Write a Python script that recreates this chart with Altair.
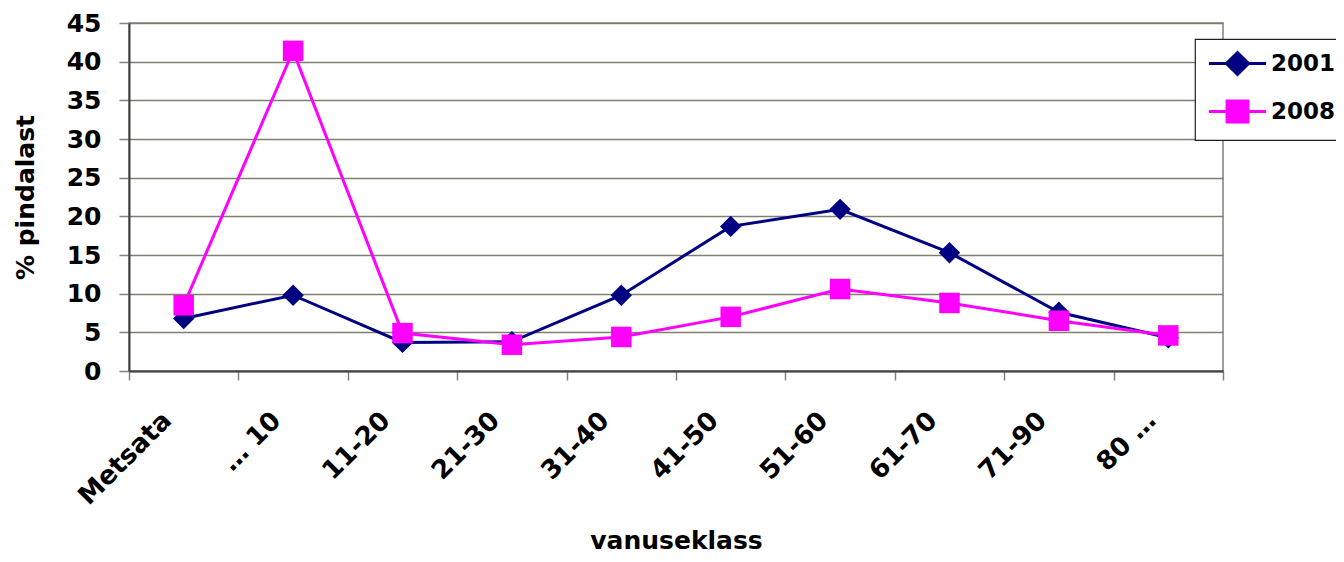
import altair as alt
import pandas as pd

categories = ["Metsata", "… 10", "11-20", "21-30", "31-40", "41-50", "51-60", "61-70", "71-90", "80 …"]
years = ["2001", "2008"]
share_2001 = [6.8, 9.8, 3.7, 3.8, 9.8, 18.7, 20.9, 15.3, 7.6, 4.3]
share_2008 = [8.5, 41.4, 4.9, 3.4, 4.4, 7.0, 10.6, 8.8, 6.5, 4.6]
y_ticks = [0, 5, 10, 15, 20, 25, 30, 35, 40, 45]
colors = ["#000080", "#FF00FF"]
marker_shapes = ["diamond", "square"]
legend_paths = [
    "M-2.6,0H2.6M0,-1L1,0L0,1L-1,0Z",
    "M-2.6,0H2.6M-0.95,-0.95H0.95V0.95H-0.95Z",
]

df = pd.DataFrame({
    "klass": categories * 2,
    "aasta": [years[0]] * len(categories) + [years[1]] * len(categories),
    "pct": share_2001 + share_2008,
})

FONT = "DejaVu Sans"

x_enc = alt.X(
    "klass:N",
    sort=categories,
    bandPosition=0.5,
    scale=alt.Scale(type="band", domain=categories, paddingInner=0, paddingOuter=0),
    axis=alt.Axis(
        title="vanuseklass",
        labelAngle=-45,
        labelAlign="right",
        labelBaseline="middle",
        labelPadding=36,
        labelOffset=-17,
        labelFontSize=26,
        tickBand="extent",
        tickSize=9,
        grid=False,
        titleBaseline="alphabetic",
        titleY=177,
    ),
)
y_enc = alt.Y(
    "pct:Q",
    scale=alt.Scale(domain=[0, 45], nice=False, zero=True),
    axis=alt.Axis(
        values=y_ticks,
        title="% pindalast",
        grid=True,
        tickSize=10,
        labelPadding=18,
        labelFontSize=25,
        titlePadding=28,
    ),
)

base = alt.Chart(df)
layers = []
for yr, col, shp in zip(years, colors, marker_shapes):
    sub = base.transform_filter(alt.datum.aasta == yr)
    layers.append(sub.mark_line(color=col, strokeWidth=3).encode(x=x_enc, y=y_enc))
    layers.append(
        sub.mark_point(filled=True, shape=shp, size=460 if shp == "diamond" else 420,
                       color=col, opacity=1, strokeWidth=0).encode(x=x_enc, y=y_enc)
    )

legend_layer = base.transform_filter("false").mark_point(filled=True, opacity=1).encode(
    fill=alt.Fill("aasta:N", scale=alt.Scale(domain=years, range=colors), legend=alt.Legend(title=None)),
    stroke=alt.Stroke("aasta:N", scale=alt.Scale(domain=years, range=colors), legend=alt.Legend(title=None)),
    shape=alt.Shape("aasta:N", scale=alt.Scale(domain=years, range=legend_paths), legend=alt.Legend(title=None)),
)
layers.append(legend_layer)

chart = alt.layer(*layers).properties(
    width=1094,
    height=348,
    autosize=alt.AutoSizeParams(type="none"),
    padding={"left": 121, "top": 15, "right": 113, "bottom": 183},
    background="white",
).configure_view(
    fill="#FFFFCC", stroke="#808080", strokeWidth=1.5
).configure_axis(
    labelFont=FONT, labelFontWeight="bold", labelColor="black",
    titleFont=FONT, titleFontWeight="bold", titleFontSize=25, titleColor="black",
    domainColor="#404040", domainWidth=2,
    tickColor="#808080", tickWidth=1.5,
    gridColor="#7f7f70", gridWidth=1.6, gridOpacity=1,
).configure_legend(
    orient="none", legendX=1066, legendY=16,
    fillColor="white", strokeColor="#202020", strokeWidth=1.2,
    padding=12, cornerRadius=0,
    symbolSize=484, symbolStrokeWidth=3, symbolOffset=18,
    labelFont=FONT, labelFontWeight="bold", labelFontSize=23, labelColor="black",
    labelOffset=21, rowPadding=14,
)

chart.save("out.html", embed_options={"renderer": "svg", "actions": False})
